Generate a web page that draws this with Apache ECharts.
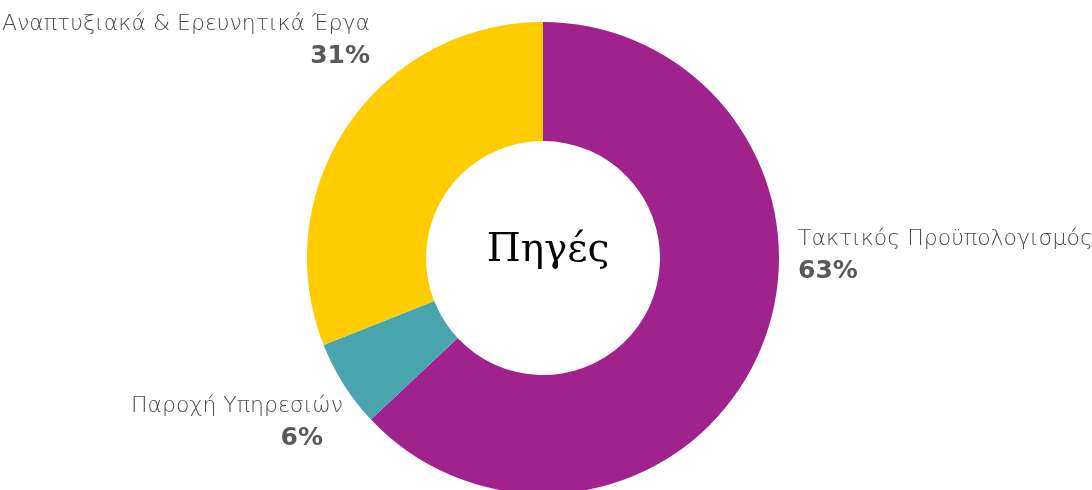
<!DOCTYPE html>
<html>
<head>
<meta charset="utf-8">
<script src="https://cdn.jsdelivr.net/npm/echarts@6/dist/echarts.min.js"></script>
<style>
  html, body { margin: 0; padding: 0; background: #fff; }
  #chart { width: 1092px; height: 490px; }
</style>
</head>
<body>
<div id="chart"></div>
<script>
// δεδομένα
const categories = ['Τακτικός Προϋπολογισμός', 'Παροχή Υπηρεσιών', 'Αναπτυξιακά & Ερευνητικά Έργα']
const shares = [63, 6, 31]
const colors = ['#A0228C', '#48A5AE', '#FFCC00']
const centerTitle = 'Πηγές'

// θέσεις ετικετών (x, y, στοίχιση)
const labelPos = [
  { x: 798, y: 255, align: 'left' },
  { x: 343, y: 422, align: 'right' },
  { x: 370, y: 40, align: 'right' },
]

const chart = echarts.init(document.getElementById('chart'))

const option = {
  animation: false,
  graphic: [{
    type: 'text',
    x: 548,
    y: 251,
    style: {
      text: centerTitle,
      font: '39px "DejaVu Serif"',
      fill: '#000',
      align: 'center',
      verticalAlign: 'middle',
    },
  }],
  series: [{
    type: 'pie',
    center: [543, 258],
    radius: [117, 236],
    startAngle: 90,
    clockwise: true,
    silent: true,
    label: {
      show: true,
      position: 'outside',
      overflow: 'none',
      formatter: p => '{n|' + p.name + '}\n{p|' + p.value + '%}',
      rich: {
        n: { fontFamily: 'DejaVu Sans', fontWeight: 200, fontSize: 22, color: '#4a4a4a', lineHeight: 32 },
        p: { fontFamily: 'DejaVu Sans', fontWeight: 'bold', fontSize: 25, color: '#595959', lineHeight: 32 },
      },
    },
    labelLine: { show: false },
    labelLayout: params => {
      const lp = labelPos[params.dataIndex]
      return { x: lp.x, y: lp.y, align: lp.align, verticalAlign: 'middle' }
    },
    data: categories.map((c, i) => ({
      name: c,
      value: shares[i],
      itemStyle: { color: colors[i] },
      label: i === 1 ? { rich: { p: { padding: [0, 20, 0, 0] } } } : {},
    })),
  }],
}

chart.setOption(option)
</script>
</body>
</html>
